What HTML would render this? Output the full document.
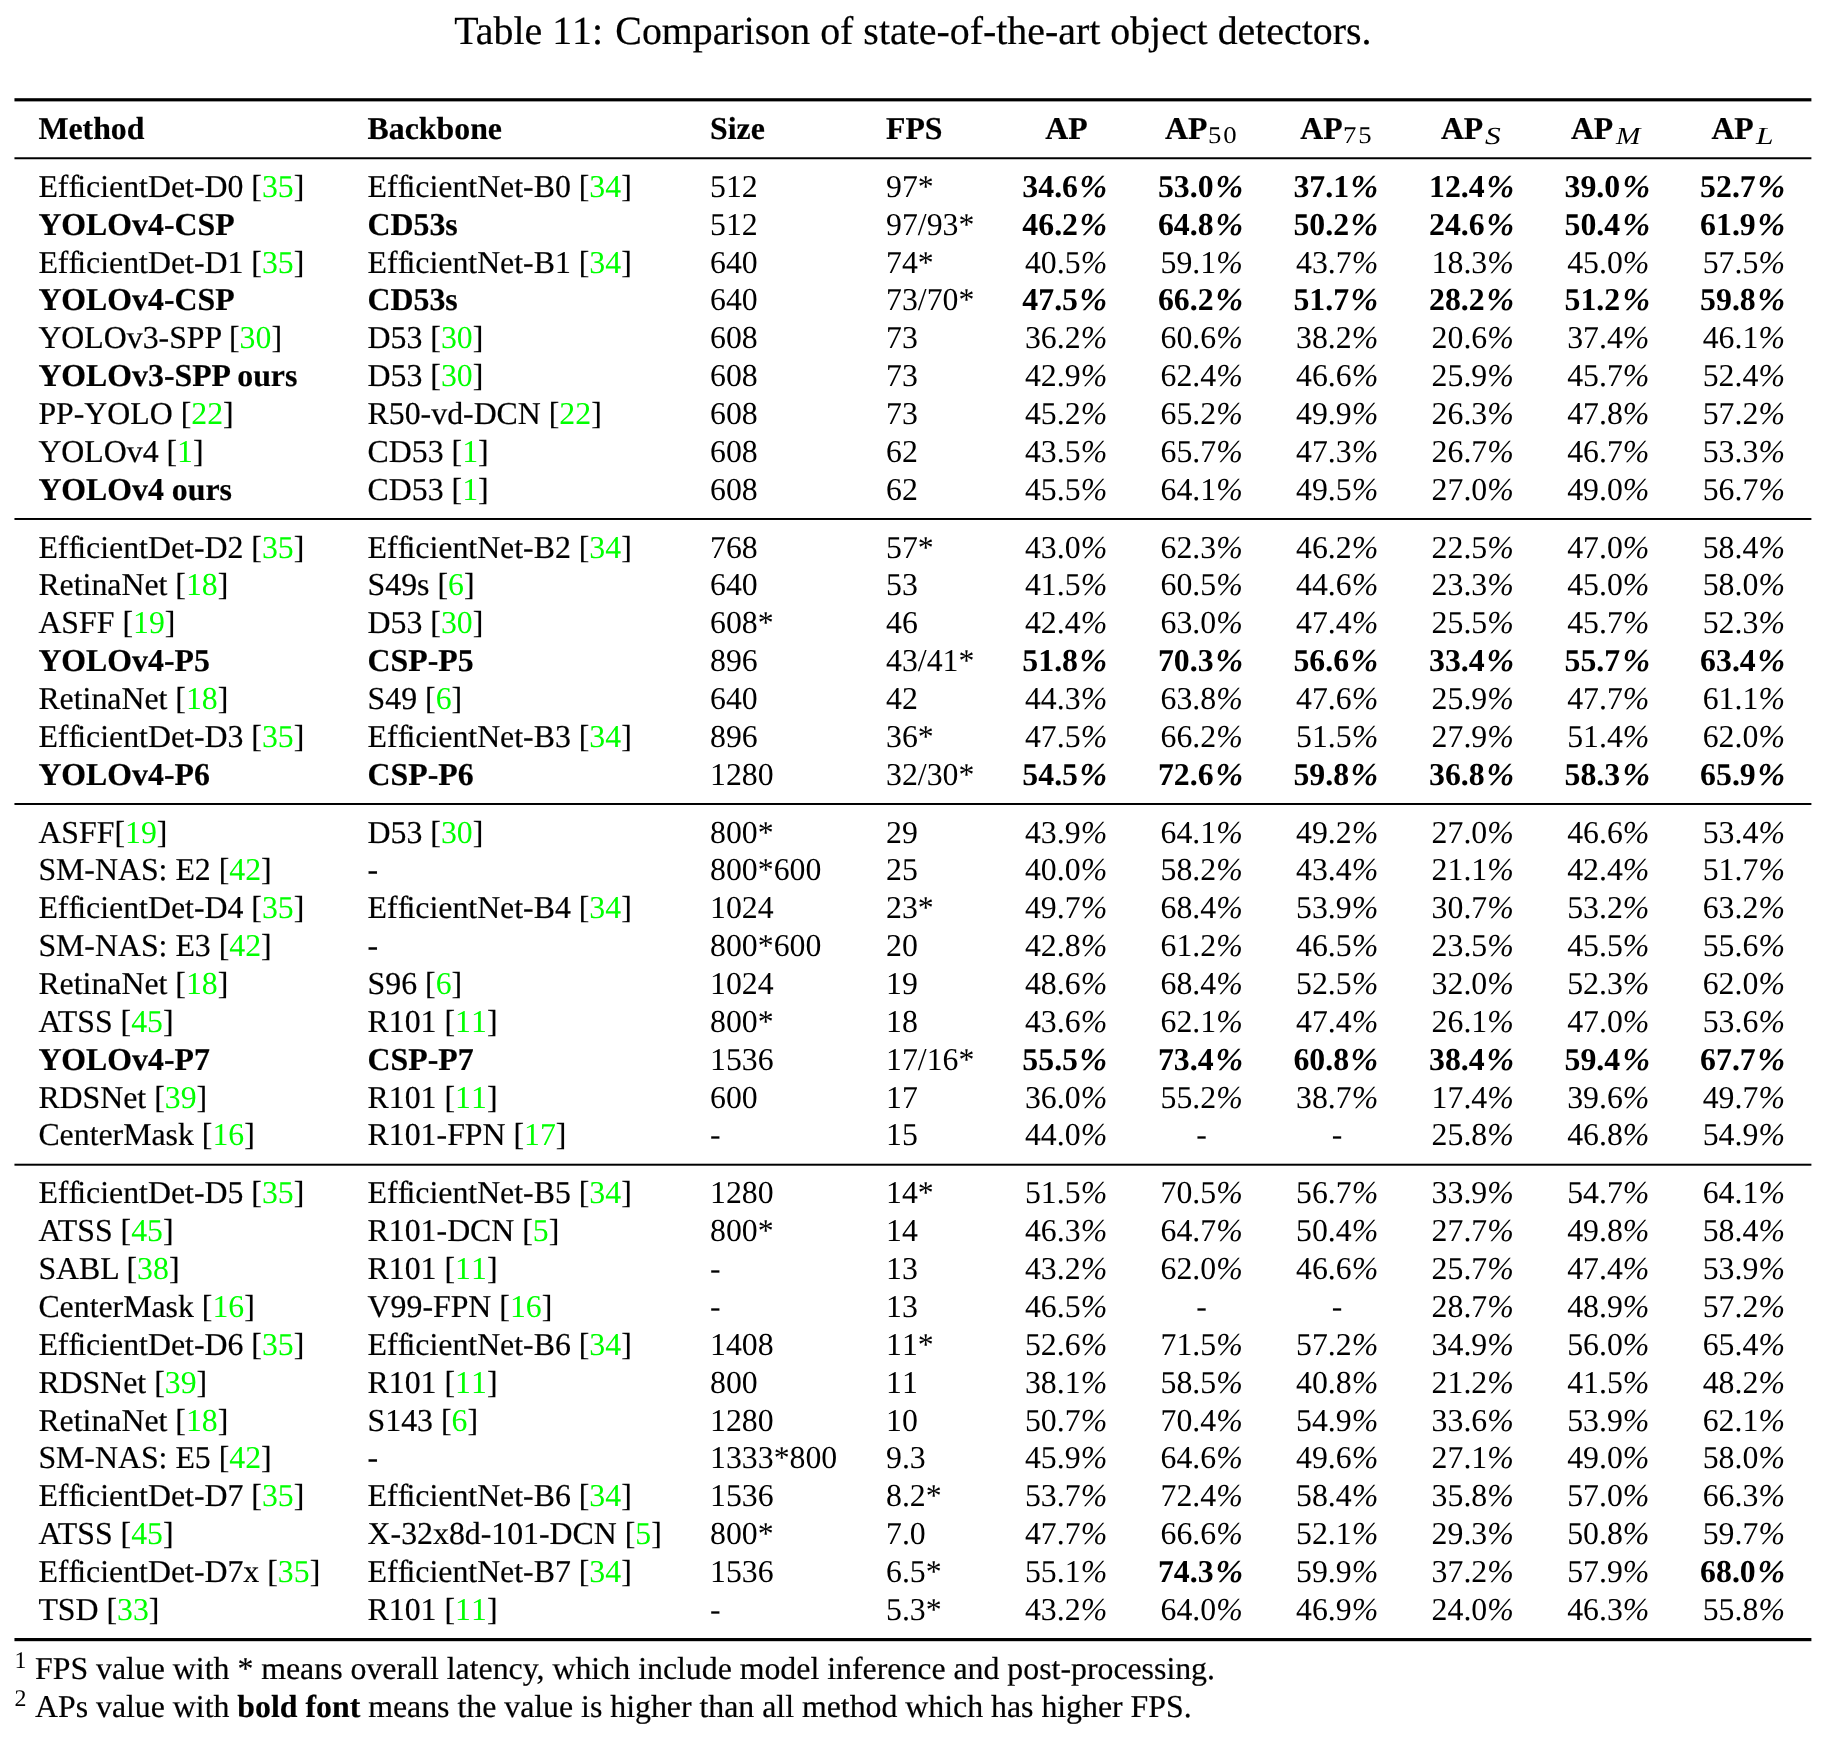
<!DOCTYPE html>
<html lang="en"><head><meta charset="utf-8"><title>Table 11</title>
<style>
html,body{margin:0;padding:0;background:#fff;}
body{width:1828px;height:1745px;position:relative;overflow:hidden;font-family:"Liberation Serif",serif;color:#000;font-size:31.820px;line-height:37px;will-change:transform;text-rendering:geometricPrecision;-webkit-text-stroke-width:0.2px;}
.title{position:absolute;left:454.2px;top:8px;font-size:39.880px;line-height:45px;white-space:nowrap;}
.t1{margin-right:2.2px}
.nk{font-kerning:none}
.rule{position:absolute;left:14px;width:1796px;height:1px;background:#000;border-left:1px solid #000;border-right:1px solid #000;}
.row{position:absolute;left:0;width:1828px;height:37px;white-space:nowrap;}
.c{position:absolute;top:0;}
.m{text-align:center;}
.hd{font-weight:bold;}
.g{color:#00ff00;}
.m,.n,.g,.sub,.sup{-webkit-text-stroke-width:0}
.sub{font-weight:normal;font-size:23.910px;line-height:26px;top:13px;letter-spacing:1.75px;transform:scaleX(1.12);transform-origin:0 50%}
.sub.it{font-style:italic;font-size:24.6px;line-height:27px;top:13px;letter-spacing:0;transform:scaleX(1.28);transform-origin:0 50%}
.k{letter-spacing:-1.74px}
i{font-style:italic}
b i{display:inline-block;transform:scaleX(1.04);margin:0 0.089em 0 0.075em}
.sup{font-size:23.910px;line-height:26px;top:-2px}
</style></head>
<body>
<div class="title" role="heading"><span class="t1">Table <span class="nk">11</span>:</span> Comparison of state-of-the-art object detectors.</div>
<div class="rule" role="presentation" style="top:98px;background:#333333;border-left-color:#8f8f8f;border-right-color:#adadad"></div>
<div class="rule" role="presentation" style="top:99px;background:#000000;border-left-color:#737373;border-right-color:#999999"></div>
<div class="rule" role="presentation" style="top:100px;background:#000000;border-left-color:#737373;border-right-color:#999999"></div>
<div class="rule" role="presentation" style="top:101px;background:#9c9c9c;border-left-color:#c9c9c9;border-right-color:#d7d7d7"></div>
<div class="row hd" role="row" style="top:110px"><span class="c l" role="cell" style="left:38.40px">Method</span><span class="c l" role="cell" style="left:367.60px">Backbone</span><span class="c l" role="cell" style="left:710.00px">Size</span><span class="c l" role="cell" style="left:886.00px">FPS</span><span class="c l" style="left:1045.30px">AP</span><span class="c l" style="left:1165.10px">AP</span><span class="c sub" style="left:1207.60px">50</span><span class="c l" style="left:1300.20px">AP</span><span class="c sub" style="left:1342.80px">75</span><span class="c l" style="left:1440.90px">AP</span><span class="c sub it" style="left:1485.00px">S</span><span class="c l" style="left:1570.90px">AP</span><span class="c sub it" style="left:1616.10px;transform:scaleX(1.19)">M</span><span class="c l" style="left:1711.40px">AP</span><span class="c sub it" style="left:1756.40px">L</span></div>
<div class="rule" role="presentation" style="top:157px;background:#424242;border-left-color:#979797;border-right-color:#b3b3b3"></div>
<div class="rule" role="presentation" style="top:158px;background:#000000;border-left-color:#737373;border-right-color:#999999"></div>
<div class="rule" role="presentation" style="top:159px;background:#bfbfbf;border-left-color:#dcdcdc;border-right-color:#e5e5e5"></div>
<div class="row" role="row" style="top:168px"><span class="c l" role="cell" style="left:38.40px">Ef<span class="k">f</span>icientDet-D0 [<span class="g">35</span>]</span><span class="c l" role="cell" style="left:367.60px">Ef<span class="k">f</span>icientNet-B0 [<span class="g">34</span>]</span><span class="c l n" role="cell" style="left:710.00px">512</span><span class="c l n" role="cell" style="left:886.00px">97*</span><span class="c m" role="cell" style="left:996.05px;width:140px"><b>34.6<i>%</i></b></span><span class="c m" role="cell" style="left:1131.60px;width:140px"><b>53.0<i>%</i></b></span><span class="c m" role="cell" style="left:1267.15px;width:140px"><b>37.1<i>%</i></b></span><span class="c m" role="cell" style="left:1402.70px;width:140px"><b>12.4<i>%</i></b></span><span class="c m" role="cell" style="left:1538.25px;width:140px"><b>39.0<i>%</i></b></span><span class="c m" role="cell" style="left:1673.80px;width:140px"><b>52.7<i>%</i></b></span></div>
<div class="row" role="row" style="top:206px"><span class="c l" role="cell" style="left:38.40px"><b>YOLOv4-CSP</b></span><span class="c l" role="cell" style="left:367.60px"><b>CD53s</b></span><span class="c l n" role="cell" style="left:710.00px">512</span><span class="c l n" role="cell" style="left:886.00px">97/93*</span><span class="c m" role="cell" style="left:996.05px;width:140px"><b>46.2<i>%</i></b></span><span class="c m" role="cell" style="left:1131.60px;width:140px"><b>64.8<i>%</i></b></span><span class="c m" role="cell" style="left:1267.15px;width:140px"><b>50.2<i>%</i></b></span><span class="c m" role="cell" style="left:1402.70px;width:140px"><b>24.6<i>%</i></b></span><span class="c m" role="cell" style="left:1538.25px;width:140px"><b>50.4<i>%</i></b></span><span class="c m" role="cell" style="left:1673.80px;width:140px"><b>61.9<i>%</i></b></span></div>
<div class="row" role="row" style="top:244px"><span class="c l" role="cell" style="left:38.40px">Ef<span class="k">f</span>icientDet-D1 [<span class="g">35</span>]</span><span class="c l" role="cell" style="left:367.60px">Ef<span class="k">f</span>icientNet-B1 [<span class="g">34</span>]</span><span class="c l n" role="cell" style="left:710.00px">640</span><span class="c l n" role="cell" style="left:886.00px">74*</span><span class="c m" role="cell" style="left:996.05px;width:140px">40.5<i>%</i></span><span class="c m" role="cell" style="left:1131.60px;width:140px">59.1<i>%</i></span><span class="c m" role="cell" style="left:1267.15px;width:140px">43.7<i>%</i></span><span class="c m" role="cell" style="left:1402.70px;width:140px">18.3<i>%</i></span><span class="c m" role="cell" style="left:1538.25px;width:140px">45.0<i>%</i></span><span class="c m" role="cell" style="left:1673.80px;width:140px">57.5<i>%</i></span></div>
<div class="row" role="row" style="top:281px"><span class="c l" role="cell" style="left:38.40px"><b>YOLOv4-CSP</b></span><span class="c l" role="cell" style="left:367.60px"><b>CD53s</b></span><span class="c l n" role="cell" style="left:710.00px">640</span><span class="c l n" role="cell" style="left:886.00px">73/70*</span><span class="c m" role="cell" style="left:996.05px;width:140px"><b>47.5<i>%</i></b></span><span class="c m" role="cell" style="left:1131.60px;width:140px"><b>66.2<i>%</i></b></span><span class="c m" role="cell" style="left:1267.15px;width:140px"><b>51.7<i>%</i></b></span><span class="c m" role="cell" style="left:1402.70px;width:140px"><b>28.2<i>%</i></b></span><span class="c m" role="cell" style="left:1538.25px;width:140px"><b>51.2<i>%</i></b></span><span class="c m" role="cell" style="left:1673.80px;width:140px"><b>59.8<i>%</i></b></span></div>
<div class="row" role="row" style="top:319px"><span class="c l" role="cell" style="left:38.40px">YOLOv3-SPP [<span class="g">30</span>]</span><span class="c l" role="cell" style="left:367.60px">D53 [<span class="g">30</span>]</span><span class="c l n" role="cell" style="left:710.00px">608</span><span class="c l n" role="cell" style="left:886.00px">73</span><span class="c m" role="cell" style="left:996.05px;width:140px">36.2<i>%</i></span><span class="c m" role="cell" style="left:1131.60px;width:140px">60.6<i>%</i></span><span class="c m" role="cell" style="left:1267.15px;width:140px">38.2<i>%</i></span><span class="c m" role="cell" style="left:1402.70px;width:140px">20.6<i>%</i></span><span class="c m" role="cell" style="left:1538.25px;width:140px">37.4<i>%</i></span><span class="c m" role="cell" style="left:1673.80px;width:140px">46.1<i>%</i></span></div>
<div class="row" role="row" style="top:357px"><span class="c l" role="cell" style="left:38.40px"><b>YOLOv3-SPP ours</b></span><span class="c l" role="cell" style="left:367.60px">D53 [<span class="g">30</span>]</span><span class="c l n" role="cell" style="left:710.00px">608</span><span class="c l n" role="cell" style="left:886.00px">73</span><span class="c m" role="cell" style="left:996.05px;width:140px">42.9<i>%</i></span><span class="c m" role="cell" style="left:1131.60px;width:140px">62.4<i>%</i></span><span class="c m" role="cell" style="left:1267.15px;width:140px">46.6<i>%</i></span><span class="c m" role="cell" style="left:1402.70px;width:140px">25.9<i>%</i></span><span class="c m" role="cell" style="left:1538.25px;width:140px">45.7<i>%</i></span><span class="c m" role="cell" style="left:1673.80px;width:140px">52.4<i>%</i></span></div>
<div class="row" role="row" style="top:395px"><span class="c l" role="cell" style="left:38.40px">PP-YOLO [<span class="g">22</span>]</span><span class="c l" role="cell" style="left:367.60px">R50-vd-DCN [<span class="g">22</span>]</span><span class="c l n" role="cell" style="left:710.00px">608</span><span class="c l n" role="cell" style="left:886.00px">73</span><span class="c m" role="cell" style="left:996.05px;width:140px">45.2<i>%</i></span><span class="c m" role="cell" style="left:1131.60px;width:140px">65.2<i>%</i></span><span class="c m" role="cell" style="left:1267.15px;width:140px">49.9<i>%</i></span><span class="c m" role="cell" style="left:1402.70px;width:140px">26.3<i>%</i></span><span class="c m" role="cell" style="left:1538.25px;width:140px">47.8<i>%</i></span><span class="c m" role="cell" style="left:1673.80px;width:140px">57.2<i>%</i></span></div>
<div class="row" role="row" style="top:433px"><span class="c l" role="cell" style="left:38.40px">YOLOv4 [<span class="g">1</span>]</span><span class="c l" role="cell" style="left:367.60px">CD53 [<span class="g">1</span>]</span><span class="c l n" role="cell" style="left:710.00px">608</span><span class="c l n" role="cell" style="left:886.00px">62</span><span class="c m" role="cell" style="left:996.05px;width:140px">43.5<i>%</i></span><span class="c m" role="cell" style="left:1131.60px;width:140px">65.7<i>%</i></span><span class="c m" role="cell" style="left:1267.15px;width:140px">47.3<i>%</i></span><span class="c m" role="cell" style="left:1402.70px;width:140px">26.7<i>%</i></span><span class="c m" role="cell" style="left:1538.25px;width:140px">46.7<i>%</i></span><span class="c m" role="cell" style="left:1673.80px;width:140px">53.3<i>%</i></span></div>
<div class="row" role="row" style="top:471px"><span class="c l" role="cell" style="left:38.40px"><b>YOLOv4 ours</b></span><span class="c l" role="cell" style="left:367.60px">CD53 [<span class="g">1</span>]</span><span class="c l n" role="cell" style="left:710.00px">608</span><span class="c l n" role="cell" style="left:886.00px">62</span><span class="c m" role="cell" style="left:996.05px;width:140px">45.5<i>%</i></span><span class="c m" role="cell" style="left:1131.60px;width:140px">64.1<i>%</i></span><span class="c m" role="cell" style="left:1267.15px;width:140px">49.5<i>%</i></span><span class="c m" role="cell" style="left:1402.70px;width:140px">27.0<i>%</i></span><span class="c m" role="cell" style="left:1538.25px;width:140px">49.0<i>%</i></span><span class="c m" role="cell" style="left:1673.80px;width:140px">56.7<i>%</i></span></div>
<div class="rule" role="presentation" style="top:518px;background:#000000;border-left-color:#737373;border-right-color:#999999"></div>
<div class="rule" role="presentation" style="top:519px;background:#070707;border-left-color:#777777;border-right-color:#9c9c9c"></div>
<div class="row" role="row" style="top:529px"><span class="c l" role="cell" style="left:38.40px">Ef<span class="k">f</span>icientDet-D2 [<span class="g">35</span>]</span><span class="c l" role="cell" style="left:367.60px">Ef<span class="k">f</span>icientNet-B2 [<span class="g">34</span>]</span><span class="c l n" role="cell" style="left:710.00px">768</span><span class="c l n" role="cell" style="left:886.00px">57*</span><span class="c m" role="cell" style="left:996.05px;width:140px">43.0<i>%</i></span><span class="c m" role="cell" style="left:1131.60px;width:140px">62.3<i>%</i></span><span class="c m" role="cell" style="left:1267.15px;width:140px">46.2<i>%</i></span><span class="c m" role="cell" style="left:1402.70px;width:140px">22.5<i>%</i></span><span class="c m" role="cell" style="left:1538.25px;width:140px">47.0<i>%</i></span><span class="c m" role="cell" style="left:1673.80px;width:140px">58.4<i>%</i></span></div>
<div class="row" role="row" style="top:566px"><span class="c l" role="cell" style="left:38.40px">RetinaNet [<span class="g">18</span>]</span><span class="c l" role="cell" style="left:367.60px">S49s [<span class="g">6</span>]</span><span class="c l n" role="cell" style="left:710.00px">640</span><span class="c l n" role="cell" style="left:886.00px">53</span><span class="c m" role="cell" style="left:996.05px;width:140px">41.5<i>%</i></span><span class="c m" role="cell" style="left:1131.60px;width:140px">60.5<i>%</i></span><span class="c m" role="cell" style="left:1267.15px;width:140px">44.6<i>%</i></span><span class="c m" role="cell" style="left:1402.70px;width:140px">23.3<i>%</i></span><span class="c m" role="cell" style="left:1538.25px;width:140px">45.0<i>%</i></span><span class="c m" role="cell" style="left:1673.80px;width:140px">58.0<i>%</i></span></div>
<div class="row" role="row" style="top:604px"><span class="c l" role="cell" style="left:38.40px">ASFF [<span class="g">19</span>]</span><span class="c l" role="cell" style="left:367.60px">D53 [<span class="g">30</span>]</span><span class="c l n" role="cell" style="left:710.00px">608*</span><span class="c l n" role="cell" style="left:886.00px">46</span><span class="c m" role="cell" style="left:996.05px;width:140px">42.4<i>%</i></span><span class="c m" role="cell" style="left:1131.60px;width:140px">63.0<i>%</i></span><span class="c m" role="cell" style="left:1267.15px;width:140px">47.4<i>%</i></span><span class="c m" role="cell" style="left:1402.70px;width:140px">25.5<i>%</i></span><span class="c m" role="cell" style="left:1538.25px;width:140px">45.7<i>%</i></span><span class="c m" role="cell" style="left:1673.80px;width:140px">52.3<i>%</i></span></div>
<div class="row" role="row" style="top:642px"><span class="c l" role="cell" style="left:38.40px"><b>YOLOv4-P5</b></span><span class="c l" role="cell" style="left:367.60px"><b>CSP-P5</b></span><span class="c l n" role="cell" style="left:710.00px">896</span><span class="c l n" role="cell" style="left:886.00px">43/41*</span><span class="c m" role="cell" style="left:996.05px;width:140px"><b>51.8<i>%</i></b></span><span class="c m" role="cell" style="left:1131.60px;width:140px"><b>70.3<i>%</i></b></span><span class="c m" role="cell" style="left:1267.15px;width:140px"><b>56.6<i>%</i></b></span><span class="c m" role="cell" style="left:1402.70px;width:140px"><b>33.4<i>%</i></b></span><span class="c m" role="cell" style="left:1538.25px;width:140px"><b>55.7<i>%</i></b></span><span class="c m" role="cell" style="left:1673.80px;width:140px"><b>63.4<i>%</i></b></span></div>
<div class="row" role="row" style="top:680px"><span class="c l" role="cell" style="left:38.40px">RetinaNet [<span class="g">18</span>]</span><span class="c l" role="cell" style="left:367.60px">S49 [<span class="g">6</span>]</span><span class="c l n" role="cell" style="left:710.00px">640</span><span class="c l n" role="cell" style="left:886.00px">42</span><span class="c m" role="cell" style="left:996.05px;width:140px">44.3<i>%</i></span><span class="c m" role="cell" style="left:1131.60px;width:140px">63.8<i>%</i></span><span class="c m" role="cell" style="left:1267.15px;width:140px">47.6<i>%</i></span><span class="c m" role="cell" style="left:1402.70px;width:140px">25.9<i>%</i></span><span class="c m" role="cell" style="left:1538.25px;width:140px">47.7<i>%</i></span><span class="c m" role="cell" style="left:1673.80px;width:140px">61.1<i>%</i></span></div>
<div class="row" role="row" style="top:718px"><span class="c l" role="cell" style="left:38.40px">Ef<span class="k">f</span>icientDet-D3 [<span class="g">35</span>]</span><span class="c l" role="cell" style="left:367.60px">Ef<span class="k">f</span>icientNet-B3 [<span class="g">34</span>]</span><span class="c l n" role="cell" style="left:710.00px">896</span><span class="c l n" role="cell" style="left:886.00px">36*</span><span class="c m" role="cell" style="left:996.05px;width:140px">47.5<i>%</i></span><span class="c m" role="cell" style="left:1131.60px;width:140px">66.2<i>%</i></span><span class="c m" role="cell" style="left:1267.15px;width:140px">51.5<i>%</i></span><span class="c m" role="cell" style="left:1402.70px;width:140px">27.9<i>%</i></span><span class="c m" role="cell" style="left:1538.25px;width:140px">51.4<i>%</i></span><span class="c m" role="cell" style="left:1673.80px;width:140px">62.0<i>%</i></span></div>
<div class="row" role="row" style="top:756px"><span class="c l" role="cell" style="left:38.40px"><b>YOLOv4-P6</b></span><span class="c l" role="cell" style="left:367.60px"><b>CSP-P6</b></span><span class="c l n" role="cell" style="left:710.00px">1280</span><span class="c l n" role="cell" style="left:886.00px">32/30*</span><span class="c m" role="cell" style="left:996.05px;width:140px"><b>54.5<i>%</i></b></span><span class="c m" role="cell" style="left:1131.60px;width:140px"><b>72.6<i>%</i></b></span><span class="c m" role="cell" style="left:1267.15px;width:140px"><b>59.8<i>%</i></b></span><span class="c m" role="cell" style="left:1402.70px;width:140px"><b>36.8<i>%</i></b></span><span class="c m" role="cell" style="left:1538.25px;width:140px"><b>58.3<i>%</i></b></span><span class="c m" role="cell" style="left:1673.80px;width:140px"><b>65.9<i>%</i></b></span></div>
<div class="rule" role="presentation" style="top:803px;background:#000000;border-left-color:#737373;border-right-color:#999999"></div>
<div class="rule" role="presentation" style="top:804px;background:#050505;border-left-color:#767676;border-right-color:#9b9b9b"></div>
<div class="row" role="row" style="top:814px"><span class="c l" role="cell" style="left:38.40px">ASFF[<span class="g">19</span>]</span><span class="c l" role="cell" style="left:367.60px">D53 [<span class="g">30</span>]</span><span class="c l n" role="cell" style="left:710.00px">800*</span><span class="c l n" role="cell" style="left:886.00px">29</span><span class="c m" role="cell" style="left:996.05px;width:140px">43.9<i>%</i></span><span class="c m" role="cell" style="left:1131.60px;width:140px">64.1<i>%</i></span><span class="c m" role="cell" style="left:1267.15px;width:140px">49.2<i>%</i></span><span class="c m" role="cell" style="left:1402.70px;width:140px">27.0<i>%</i></span><span class="c m" role="cell" style="left:1538.25px;width:140px">46.6<i>%</i></span><span class="c m" role="cell" style="left:1673.80px;width:140px">53.4<i>%</i></span></div>
<div class="row" role="row" style="top:851px"><span class="c l" role="cell" style="left:38.40px">SM-NAS: E2 [<span class="g">42</span>]</span><span class="c l" role="cell" style="left:367.60px">-</span><span class="c l n" role="cell" style="left:710.00px">800*600</span><span class="c l n" role="cell" style="left:886.00px">25</span><span class="c m" role="cell" style="left:996.05px;width:140px">40.0<i>%</i></span><span class="c m" role="cell" style="left:1131.60px;width:140px">58.2<i>%</i></span><span class="c m" role="cell" style="left:1267.15px;width:140px">43.4<i>%</i></span><span class="c m" role="cell" style="left:1402.70px;width:140px">21.1<i>%</i></span><span class="c m" role="cell" style="left:1538.25px;width:140px">42.4<i>%</i></span><span class="c m" role="cell" style="left:1673.80px;width:140px">51.7<i>%</i></span></div>
<div class="row" role="row" style="top:889px"><span class="c l" role="cell" style="left:38.40px">Ef<span class="k">f</span>icientDet-D4 [<span class="g">35</span>]</span><span class="c l" role="cell" style="left:367.60px">Ef<span class="k">f</span>icientNet-B4 [<span class="g">34</span>]</span><span class="c l n" role="cell" style="left:710.00px">1024</span><span class="c l n" role="cell" style="left:886.00px">23*</span><span class="c m" role="cell" style="left:996.05px;width:140px">49.7<i>%</i></span><span class="c m" role="cell" style="left:1131.60px;width:140px">68.4<i>%</i></span><span class="c m" role="cell" style="left:1267.15px;width:140px">53.9<i>%</i></span><span class="c m" role="cell" style="left:1402.70px;width:140px">30.7<i>%</i></span><span class="c m" role="cell" style="left:1538.25px;width:140px">53.2<i>%</i></span><span class="c m" role="cell" style="left:1673.80px;width:140px">63.2<i>%</i></span></div>
<div class="row" role="row" style="top:927px"><span class="c l" role="cell" style="left:38.40px">SM-NAS: E3 [<span class="g">42</span>]</span><span class="c l" role="cell" style="left:367.60px">-</span><span class="c l n" role="cell" style="left:710.00px">800*600</span><span class="c l n" role="cell" style="left:886.00px">20</span><span class="c m" role="cell" style="left:996.05px;width:140px">42.8<i>%</i></span><span class="c m" role="cell" style="left:1131.60px;width:140px">61.2<i>%</i></span><span class="c m" role="cell" style="left:1267.15px;width:140px">46.5<i>%</i></span><span class="c m" role="cell" style="left:1402.70px;width:140px">23.5<i>%</i></span><span class="c m" role="cell" style="left:1538.25px;width:140px">45.5<i>%</i></span><span class="c m" role="cell" style="left:1673.80px;width:140px">55.6<i>%</i></span></div>
<div class="row" role="row" style="top:965px"><span class="c l" role="cell" style="left:38.40px">RetinaNet [<span class="g">18</span>]</span><span class="c l" role="cell" style="left:367.60px">S96 [<span class="g">6</span>]</span><span class="c l n" role="cell" style="left:710.00px">1024</span><span class="c l n" role="cell" style="left:886.00px">19</span><span class="c m" role="cell" style="left:996.05px;width:140px">48.6<i>%</i></span><span class="c m" role="cell" style="left:1131.60px;width:140px">68.4<i>%</i></span><span class="c m" role="cell" style="left:1267.15px;width:140px">52.5<i>%</i></span><span class="c m" role="cell" style="left:1402.70px;width:140px">32.0<i>%</i></span><span class="c m" role="cell" style="left:1538.25px;width:140px">52.3<i>%</i></span><span class="c m" role="cell" style="left:1673.80px;width:140px">62.0<i>%</i></span></div>
<div class="row" role="row" style="top:1003px"><span class="c l" role="cell" style="left:38.40px">ATSS [<span class="g">45</span>]</span><span class="c l" role="cell" style="left:367.60px">R101 [<span class="g nk">11</span>]</span><span class="c l n" role="cell" style="left:710.00px">800*</span><span class="c l n" role="cell" style="left:886.00px">18</span><span class="c m" role="cell" style="left:996.05px;width:140px">43.6<i>%</i></span><span class="c m" role="cell" style="left:1131.60px;width:140px">62.1<i>%</i></span><span class="c m" role="cell" style="left:1267.15px;width:140px">47.4<i>%</i></span><span class="c m" role="cell" style="left:1402.70px;width:140px">26.1<i>%</i></span><span class="c m" role="cell" style="left:1538.25px;width:140px">47.0<i>%</i></span><span class="c m" role="cell" style="left:1673.80px;width:140px">53.6<i>%</i></span></div>
<div class="row" role="row" style="top:1041px"><span class="c l" role="cell" style="left:38.40px"><b>YOLOv4-P7</b></span><span class="c l" role="cell" style="left:367.60px"><b>CSP-P7</b></span><span class="c l n" role="cell" style="left:710.00px">1536</span><span class="c l n" role="cell" style="left:886.00px">17/16*</span><span class="c m" role="cell" style="left:996.05px;width:140px"><b>55.5<i>%</i></b></span><span class="c m" role="cell" style="left:1131.60px;width:140px"><b>73.4<i>%</i></b></span><span class="c m" role="cell" style="left:1267.15px;width:140px"><b>60.8<i>%</i></b></span><span class="c m" role="cell" style="left:1402.70px;width:140px"><b>38.4<i>%</i></b></span><span class="c m" role="cell" style="left:1538.25px;width:140px"><b>59.4<i>%</i></b></span><span class="c m" role="cell" style="left:1673.80px;width:140px"><b>67.7<i>%</i></b></span></div>
<div class="row" role="row" style="top:1079px"><span class="c l" role="cell" style="left:38.40px">RDSNet [<span class="g">39</span>]</span><span class="c l" role="cell" style="left:367.60px">R101 [<span class="g nk">11</span>]</span><span class="c l n" role="cell" style="left:710.00px">600</span><span class="c l n" role="cell" style="left:886.00px">17</span><span class="c m" role="cell" style="left:996.05px;width:140px">36.0<i>%</i></span><span class="c m" role="cell" style="left:1131.60px;width:140px">55.2<i>%</i></span><span class="c m" role="cell" style="left:1267.15px;width:140px">38.7<i>%</i></span><span class="c m" role="cell" style="left:1402.70px;width:140px">17.4<i>%</i></span><span class="c m" role="cell" style="left:1538.25px;width:140px">39.6<i>%</i></span><span class="c m" role="cell" style="left:1673.80px;width:140px">49.7<i>%</i></span></div>
<div class="row" role="row" style="top:1116px"><span class="c l" role="cell" style="left:38.40px">CenterMask [<span class="g">16</span>]</span><span class="c l" role="cell" style="left:367.60px">R101-FPN [<span class="g">17</span>]</span><span class="c l n" role="cell" style="left:710.00px">-</span><span class="c l n" role="cell" style="left:886.00px">15</span><span class="c m" role="cell" style="left:996.05px;width:140px">44.0<i>%</i></span><span class="c m" role="cell" style="left:1131.60px;width:140px">-</span><span class="c m" role="cell" style="left:1267.15px;width:140px">-</span><span class="c m" role="cell" style="left:1402.70px;width:140px">25.8<i>%</i></span><span class="c m" role="cell" style="left:1538.25px;width:140px">46.8<i>%</i></span><span class="c m" role="cell" style="left:1673.80px;width:140px">54.9<i>%</i></span></div>
<div class="rule" role="presentation" style="top:1163px;background:#b5b5b5;border-left-color:#d6d6d6;border-right-color:#e1e1e1"></div>
<div class="rule" role="presentation" style="top:1164px;background:#000000;border-left-color:#737373;border-right-color:#999999"></div>
<div class="rule" role="presentation" style="top:1165px;background:#4c4c4c;border-left-color:#9d9d9d;border-right-color:#b7b7b7"></div>
<div class="row" role="row" style="top:1174px"><span class="c l" role="cell" style="left:38.40px">Ef<span class="k">f</span>icientDet-D5 [<span class="g">35</span>]</span><span class="c l" role="cell" style="left:367.60px">Ef<span class="k">f</span>icientNet-B5 [<span class="g">34</span>]</span><span class="c l n" role="cell" style="left:710.00px">1280</span><span class="c l n" role="cell" style="left:886.00px">14*</span><span class="c m" role="cell" style="left:996.05px;width:140px">51.5<i>%</i></span><span class="c m" role="cell" style="left:1131.60px;width:140px">70.5<i>%</i></span><span class="c m" role="cell" style="left:1267.15px;width:140px">56.7<i>%</i></span><span class="c m" role="cell" style="left:1402.70px;width:140px">33.9<i>%</i></span><span class="c m" role="cell" style="left:1538.25px;width:140px">54.7<i>%</i></span><span class="c m" role="cell" style="left:1673.80px;width:140px">64.1<i>%</i></span></div>
<div class="row" role="row" style="top:1212px"><span class="c l" role="cell" style="left:38.40px">ATSS [<span class="g">45</span>]</span><span class="c l" role="cell" style="left:367.60px">R101-DCN [<span class="g">5</span>]</span><span class="c l n" role="cell" style="left:710.00px">800*</span><span class="c l n" role="cell" style="left:886.00px">14</span><span class="c m" role="cell" style="left:996.05px;width:140px">46.3<i>%</i></span><span class="c m" role="cell" style="left:1131.60px;width:140px">64.7<i>%</i></span><span class="c m" role="cell" style="left:1267.15px;width:140px">50.4<i>%</i></span><span class="c m" role="cell" style="left:1402.70px;width:140px">27.7<i>%</i></span><span class="c m" role="cell" style="left:1538.25px;width:140px">49.8<i>%</i></span><span class="c m" role="cell" style="left:1673.80px;width:140px">58.4<i>%</i></span></div>
<div class="row" role="row" style="top:1250px"><span class="c l" role="cell" style="left:38.40px">SABL [<span class="g">38</span>]</span><span class="c l" role="cell" style="left:367.60px">R101 [<span class="g nk">11</span>]</span><span class="c l n" role="cell" style="left:710.00px">-</span><span class="c l n" role="cell" style="left:886.00px">13</span><span class="c m" role="cell" style="left:996.05px;width:140px">43.2<i>%</i></span><span class="c m" role="cell" style="left:1131.60px;width:140px">62.0<i>%</i></span><span class="c m" role="cell" style="left:1267.15px;width:140px">46.6<i>%</i></span><span class="c m" role="cell" style="left:1402.70px;width:140px">25.7<i>%</i></span><span class="c m" role="cell" style="left:1538.25px;width:140px">47.4<i>%</i></span><span class="c m" role="cell" style="left:1673.80px;width:140px">53.9<i>%</i></span></div>
<div class="row" role="row" style="top:1288px"><span class="c l" role="cell" style="left:38.40px">CenterMask [<span class="g">16</span>]</span><span class="c l" role="cell" style="left:367.60px">V99-FPN [<span class="g">16</span>]</span><span class="c l n" role="cell" style="left:710.00px">-</span><span class="c l n" role="cell" style="left:886.00px">13</span><span class="c m" role="cell" style="left:996.05px;width:140px">46.5<i>%</i></span><span class="c m" role="cell" style="left:1131.60px;width:140px">-</span><span class="c m" role="cell" style="left:1267.15px;width:140px">-</span><span class="c m" role="cell" style="left:1402.70px;width:140px">28.7<i>%</i></span><span class="c m" role="cell" style="left:1538.25px;width:140px">48.9<i>%</i></span><span class="c m" role="cell" style="left:1673.80px;width:140px">57.2<i>%</i></span></div>
<div class="row" role="row" style="top:1326px"><span class="c l" role="cell" style="left:38.40px">Ef<span class="k">f</span>icientDet-D6 [<span class="g">35</span>]</span><span class="c l" role="cell" style="left:367.60px">Ef<span class="k">f</span>icientNet-B6 [<span class="g">34</span>]</span><span class="c l n" role="cell" style="left:710.00px">1408</span><span class="c l n" role="cell" style="left:886.00px"><span class="nk">11</span>*</span><span class="c m" role="cell" style="left:996.05px;width:140px">52.6<i>%</i></span><span class="c m" role="cell" style="left:1131.60px;width:140px">71.5<i>%</i></span><span class="c m" role="cell" style="left:1267.15px;width:140px">57.2<i>%</i></span><span class="c m" role="cell" style="left:1402.70px;width:140px">34.9<i>%</i></span><span class="c m" role="cell" style="left:1538.25px;width:140px">56.0<i>%</i></span><span class="c m" role="cell" style="left:1673.80px;width:140px">65.4<i>%</i></span></div>
<div class="row" role="row" style="top:1364px"><span class="c l" role="cell" style="left:38.40px">RDSNet [<span class="g">39</span>]</span><span class="c l" role="cell" style="left:367.60px">R101 [<span class="g nk">11</span>]</span><span class="c l n" role="cell" style="left:710.00px">800</span><span class="c l n" role="cell" style="left:886.00px"><span class="nk">11</span></span><span class="c m" role="cell" style="left:996.05px;width:140px">38.1<i>%</i></span><span class="c m" role="cell" style="left:1131.60px;width:140px">58.5<i>%</i></span><span class="c m" role="cell" style="left:1267.15px;width:140px">40.8<i>%</i></span><span class="c m" role="cell" style="left:1402.70px;width:140px">21.2<i>%</i></span><span class="c m" role="cell" style="left:1538.25px;width:140px">41.5<i>%</i></span><span class="c m" role="cell" style="left:1673.80px;width:140px">48.2<i>%</i></span></div>
<div class="row" role="row" style="top:1402px"><span class="c l" role="cell" style="left:38.40px">RetinaNet [<span class="g">18</span>]</span><span class="c l" role="cell" style="left:367.60px">S143 [<span class="g">6</span>]</span><span class="c l n" role="cell" style="left:710.00px">1280</span><span class="c l n" role="cell" style="left:886.00px">10</span><span class="c m" role="cell" style="left:996.05px;width:140px">50.7<i>%</i></span><span class="c m" role="cell" style="left:1131.60px;width:140px">70.4<i>%</i></span><span class="c m" role="cell" style="left:1267.15px;width:140px">54.9<i>%</i></span><span class="c m" role="cell" style="left:1402.70px;width:140px">33.6<i>%</i></span><span class="c m" role="cell" style="left:1538.25px;width:140px">53.9<i>%</i></span><span class="c m" role="cell" style="left:1673.80px;width:140px">62.1<i>%</i></span></div>
<div class="row" role="row" style="top:1439px"><span class="c l" role="cell" style="left:38.40px">SM-NAS: E5 [<span class="g">42</span>]</span><span class="c l" role="cell" style="left:367.60px">-</span><span class="c l n" role="cell" style="left:710.00px">1333*800</span><span class="c l n" role="cell" style="left:886.00px">9.3</span><span class="c m" role="cell" style="left:996.05px;width:140px">45.9<i>%</i></span><span class="c m" role="cell" style="left:1131.60px;width:140px">64.6<i>%</i></span><span class="c m" role="cell" style="left:1267.15px;width:140px">49.6<i>%</i></span><span class="c m" role="cell" style="left:1402.70px;width:140px">27.1<i>%</i></span><span class="c m" role="cell" style="left:1538.25px;width:140px">49.0<i>%</i></span><span class="c m" role="cell" style="left:1673.80px;width:140px">58.0<i>%</i></span></div>
<div class="row" role="row" style="top:1477px"><span class="c l" role="cell" style="left:38.40px">Ef<span class="k">f</span>icientDet-D7 [<span class="g">35</span>]</span><span class="c l" role="cell" style="left:367.60px">Ef<span class="k">f</span>icientNet-B6 [<span class="g">34</span>]</span><span class="c l n" role="cell" style="left:710.00px">1536</span><span class="c l n" role="cell" style="left:886.00px">8.2*</span><span class="c m" role="cell" style="left:996.05px;width:140px">53.7<i>%</i></span><span class="c m" role="cell" style="left:1131.60px;width:140px">72.4<i>%</i></span><span class="c m" role="cell" style="left:1267.15px;width:140px">58.4<i>%</i></span><span class="c m" role="cell" style="left:1402.70px;width:140px">35.8<i>%</i></span><span class="c m" role="cell" style="left:1538.25px;width:140px">57.0<i>%</i></span><span class="c m" role="cell" style="left:1673.80px;width:140px">66.3<i>%</i></span></div>
<div class="row" role="row" style="top:1515px"><span class="c l" role="cell" style="left:38.40px">ATSS [<span class="g">45</span>]</span><span class="c l" role="cell" style="left:367.60px">X-32x8d-101-DCN [<span class="g">5</span>]</span><span class="c l n" role="cell" style="left:710.00px">800*</span><span class="c l n" role="cell" style="left:886.00px">7.0</span><span class="c m" role="cell" style="left:996.05px;width:140px">47.7<i>%</i></span><span class="c m" role="cell" style="left:1131.60px;width:140px">66.6<i>%</i></span><span class="c m" role="cell" style="left:1267.15px;width:140px">52.1<i>%</i></span><span class="c m" role="cell" style="left:1402.70px;width:140px">29.3<i>%</i></span><span class="c m" role="cell" style="left:1538.25px;width:140px">50.8<i>%</i></span><span class="c m" role="cell" style="left:1673.80px;width:140px">59.7<i>%</i></span></div>
<div class="row" role="row" style="top:1553px"><span class="c l" role="cell" style="left:38.40px">Ef<span class="k">f</span>icientDet-D7x [<span class="g">35</span>]</span><span class="c l" role="cell" style="left:367.60px">Ef<span class="k">f</span>icientNet-B7 [<span class="g">34</span>]</span><span class="c l n" role="cell" style="left:710.00px">1536</span><span class="c l n" role="cell" style="left:886.00px">6.5*</span><span class="c m" role="cell" style="left:996.05px;width:140px">55.1<i>%</i></span><span class="c m" role="cell" style="left:1131.60px;width:140px"><b>74.3<i>%</i></b></span><span class="c m" role="cell" style="left:1267.15px;width:140px">59.9<i>%</i></span><span class="c m" role="cell" style="left:1402.70px;width:140px">37.2<i>%</i></span><span class="c m" role="cell" style="left:1538.25px;width:140px">57.9<i>%</i></span><span class="c m" role="cell" style="left:1673.80px;width:140px"><b>68.0<i>%</i></b></span></div>
<div class="row" role="row" style="top:1591px"><span class="c l" role="cell" style="left:38.40px">TSD [<span class="g">33</span>]</span><span class="c l" role="cell" style="left:367.60px">R101 [<span class="g nk">11</span>]</span><span class="c l n" role="cell" style="left:710.00px">-</span><span class="c l n" role="cell" style="left:886.00px">5.3*</span><span class="c m" role="cell" style="left:996.05px;width:140px">43.2<i>%</i></span><span class="c m" role="cell" style="left:1131.60px;width:140px">64.0<i>%</i></span><span class="c m" role="cell" style="left:1267.15px;width:140px">46.9<i>%</i></span><span class="c m" role="cell" style="left:1402.70px;width:140px">24.0<i>%</i></span><span class="c m" role="cell" style="left:1538.25px;width:140px">46.3<i>%</i></span><span class="c m" role="cell" style="left:1673.80px;width:140px">55.8<i>%</i></span></div>
<div class="rule" role="presentation" style="top:1638px;background:#010101;border-left-color:#737373;border-right-color:#999999"></div>
<div class="rule" role="presentation" style="top:1639px;background:#000000;border-left-color:#737373;border-right-color:#999999"></div>
<div class="rule" role="presentation" style="top:1640px;background:#000000;border-left-color:#737373;border-right-color:#999999"></div>
<div class="rule" role="presentation" style="top:1641px;background:#cecece;border-left-color:#e4e4e4;border-right-color:#ebebeb"></div>
<div class="row fn" style="top:1650px"><span class="c l sup" style="left:14.40px">1</span><span class="c l" style="left:35.00px">FPS value with * means overall latency, which include model inference and post-processing.</span></div>
<div class="row fn" style="top:1688px"><span class="c l sup" style="left:14.40px">2</span><span class="c l" style="left:35.00px">APs value with <b>bold font</b> means the value is higher than all method which has higher FPS.</span></div>
</body></html>
